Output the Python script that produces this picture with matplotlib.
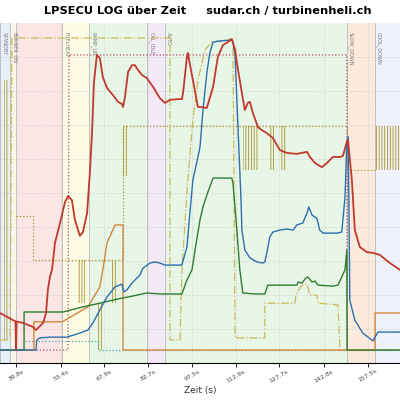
import matplotlib
matplotlib.use('Agg')
import matplotlib.pyplot as plt

# --- Daten (Zeit in s, Werte normiert 0..100) ---
red_t = [34.4, 38.8, 39.6, 39.8, 40.0, 42.1, 45.5, 46.5, 47.2, 48.9, 49.9, 50.5, 51.2, 51.9, 52.9, 54.6,
         56.3, 57.3, 58.6, 59.6, 61.3, 62.3, 63.7, 64.7, 65.4, 66.0, 67.0, 68.0, 69.0, 70.4, 72.4,
         74.1, 75.4, 75.8, 76.4, 77.5, 78.8, 79.8, 80.8, 82.2, 83.8, 85.9, 88.2, 89.9, 91.6, 94.0,
         95.6, 96.0, 97.3, 97.6, 99.3, 101.0, 101.7, 104.0, 106.1, 107.7, 109.4, 111.1, 112.4, 113.5,
         114.5, 115.8, 116.8, 117.8, 118.5, 119.5, 121.2, 122.5, 124.2, 126.2, 128.6, 130.9, 134.3,
         137.7, 138.7, 140.4, 142.7, 144.4, 146.4, 148.8, 149.8, 151.1, 151.5, 152.8, 153.8, 155.5,
         157.9, 159.9, 162.2, 165.6, 169.0]
red_v = [14.7, 12.6, 12.3, 3.8, 12.2, 11.8, 10.6, 9.7, 10.3, 11.8, 14.7, 21.5, 25.3, 27.4, 35.3, 41.2,
         47.4, 49.1, 47.9, 42.1, 37.4, 38.5, 44.1, 56.8, 68.5, 82.4, 90.6, 89.7, 84.1, 80.9, 78.8,
         76.8, 76.2, 75.3, 77.9, 85.6, 87.6, 87.6, 86.2, 84.7, 83.8, 81.2, 77.9, 76.5, 77.4, 77.6,
         77.6, 79.4, 90.0, 91.2, 83.2, 75.3, 75.3, 75.0, 81.2, 90.0, 93.5, 94.4, 95.3, 92.1,
         86.2, 79.4, 74.4, 76.5, 76.8, 73.5, 69.4, 68.5, 67.6, 66.2, 62.6, 61.8, 61.5,
         62.1, 60.6, 58.8, 57.6, 58.8, 60.6, 60.6, 60.9, 65.0, 65.6, 53.8, 39.1, 34.1,
         32.6, 32.4, 31.8, 29.4, 27.4]

blue_t = [34.4, 46.5, 46.8, 47.9, 51.2, 56.9, 61.3, 64.0, 65.7, 68.0, 70.4, 73.1, 75.4, 76.1, 77.1,
          78.8, 81.5, 82.5, 84.9, 86.5, 88.2, 89.9, 92.6, 95.6, 97.3, 98.3, 99.3, 101.0, 101.7,
          102.7, 104.0, 105.0, 106.1, 108.4, 112.4, 112.8, 113.5, 114.1, 114.8, 115.5, 115.8,
          116.8, 118.5, 120.9, 122.9, 123.5, 124.2, 125.2, 126.2, 128.6, 130.9, 133.0, 134.3,
          136.3, 137.7, 138.3, 139.4, 141.0, 142.0, 143.1, 145.4, 147.8, 149.4, 150.5, 151.1,
          151.5, 151.8, 152.1, 153.8, 156.5, 159.9, 160.6, 161.6, 164.6, 169.0]
blue_v = [3.8, 3.8, 6.8, 7.4, 7.6, 7.6, 8.8, 9.7, 11.8, 15.6, 19.4, 22.4, 23.2, 20.9, 21.5,
          23.5, 25.9, 27.9, 29.4, 29.7, 29.4, 28.8, 28.8, 28.8, 34.1, 44.1, 53.8, 60.6, 63.5,
          74.4, 85.3, 91.2, 94.4, 94.7, 95.0, 94.4, 90.6, 77.4, 62.6, 47.9, 39.1,
          33.2, 30.9, 29.7, 29.4, 29.7, 32.4, 37.1, 38.5, 39.1, 39.4, 39.1, 40.6,
          41.2, 44.1, 45.9, 43.5, 42.6, 39.1, 38.2, 38.2, 38.2, 38.5, 48.8, 64.7,
          66.5, 47.9, 18.5, 12.6, 8.8, 6.5, 7.6, 9.1, 9.1, 9.1]

green_t = [34.4, 42.5, 42.5, 55.6, 62.3, 68.0, 73.8, 79.1, 83.8, 88.2, 95.6, 97.3, 99.0, 100.3,
           101.7, 102.7, 104.0, 105.0, 106.1, 112.4, 112.8, 114.1, 115.1, 116.1, 120.2, 123.5,
           124.5, 134.3, 134.7, 136.0, 137.3, 138.0, 139.4, 140.4, 141.4, 146.4, 148.1, 149.4,
           150.5, 151.1, 151.2, 169.0]
green_v = [3.8, 3.8, 15.0, 15.0, 16.5, 17.6, 18.8, 19.7, 20.6, 20.3, 20.3, 24.4, 27.4, 34.7,
           42.1, 45.9, 49.4, 51.8, 54.4, 54.4, 52.9, 39.1, 27.4, 20.6, 20.3, 20.3,
           22.9, 22.9, 23.8, 23.5, 25.0, 25.3, 23.8, 24.1, 22.9, 22.6, 22.9, 25.3,
           27.4, 33.2, 3.8, 3.8]

orange_t = [34.4, 45.8, 45.8, 55.3, 64.0, 68.0, 69.0, 70.4, 73.1, 75.8, 75.8, 160.6, 160.6, 169.0]
orange_v = [3.8, 3.8, 12.1, 12.1, 16.5, 22.4, 27.4, 35.3, 40.6, 40.6, 3.8, 3.8, 14.7, 14.7]

khaki_t = [34.4, 37.8, 38.4, 91.6, 91.6, 95.0, 95.6, 97.6, 99.3, 101.0, 103.4, 105.7, 112.4,
           112.8, 113.5, 123.5, 123.5, 133.6, 134.0, 135.3, 136.3, 137.7, 138.7, 141.0, 141.4,
           148.1, 148.8, 169.0]
khaki_v = [6.8, 6.8, 95.6, 95.6, 6.8, 6.8, 27.4, 53.8, 71.5, 83.2, 92.1, 94.4, 95.3,
           94.1, 7.4, 7.4, 17.6, 17.6, 20.0, 22.1, 22.9, 23.2, 20.0, 20.0, 17.6,
           17.1, 3.8, 3.8]

pink_t = [34.4, 57.3, 57.6, 151.1, 151.2, 169.0]
pink_v = [3.8, 3.8, 90.6, 90.6, 3.8, 3.8]

olive_t = [39.8, 45.5, 45.5, 60.6, 75.8, 75.8, 151.1, 151.1, 160.6]
olive_v = [43.2, 43.2, 30.3, 30.3, 30.3, 69.7, 69.7, 56.8, 56.8]

teal_t = [42.8, 67.4, 67.4, 169.0]
teal_v = [6.5, 6.5, 3.8, 3.8]

# schnell wechselnde Signale (Start, Ende, unten, oben)
toggle_bands = [(35.7, 37.4, 6.8, 83.2), (60.6, 63.0, 17.6, 30.3), (67.4, 68.7, 3.8, 17.6),
                (72.1, 73.8, 17.6, 30.3), (75.8, 77.1, 55.0, 69.7), (116.1, 121.2, 56.8, 69.7),
                (125.2, 126.9, 56.8, 69.7), (128.6, 130.6, 56.8, 69.7), (160.9, 169.0, 56.8, 69.7)]

phase_names = ['STANDBY', 'BURNER_ON', '', 'FUELHEAT', 'RAMP_UP', 'CAL_IDLE', 'AUTO', 'SLOW_DOWN', 'COOL_DOWN']
phase_start = [34.4, 37.8, 39.8, 55.3, 64.3, 83.9, 89.9, 151.1, 160.6]
phase_end = [37.8, 39.8, 55.3, 64.3, 83.9, 89.9, 151.1, 160.6, 169.0]
phase_colors = ['#e6effa', '#fbf6e8', '#fbe6e6', '#fcfbe4', '#e8f6e8', '#f4e9f7', '#e8f6e8', '#fcebdd', '#edf2fb']

tick_pos = [39.8, 54.9, 69.4, 84.2, 99.0, 113.8, 128.3, 143.4, 158.2]
tick_labels = ['39.8s', '53.4s', '67.9s', '82.7s', '97.5s', '112.9s', '127.7s', '142.8s', '157.5s']

plt.rcParams['hatch.linewidth'] = 0.6

fig = plt.figure(figsize=(4, 4), dpi=100)
ax = fig.add_axes([0.0, 0.0925, 1.0, 0.85])

for name, a, b, c in zip(phase_names, phase_start, phase_end, phase_colors):
    ax.axvspan(a, b, color=c, zorder=0, lw=0)
    ax.axvline(a, color='#b8b8b8', lw=0.6, zorder=1)
    if name:
        ax.text(a + 0.4, 97.5, name, rotation=270, va='top', ha='left', fontsize=3.6, color='#777777', zorder=2)

for a, b, lo, hi in toggle_bands:
    ax.fill_between([a, b], [lo, lo], [hi, hi], facecolor='none', edgecolor='#a89224',
                    hatch='||||||', linewidth=0, zorder=3)

ax.plot(olive_t, olive_v, color='#a89224', lw=0.9, ls=':', zorder=3)
ax.plot(teal_t, teal_v, color='#4aa3a3', lw=0.9, ls=':', zorder=3)
ax.plot(pink_t, pink_v, color='#b04a6a', lw=0.9, ls=':', zorder=3)
ax.plot(khaki_t, khaki_v, color='#cbb95c', lw=0.9, ls='-.', zorder=3)
ax.plot(orange_t, orange_v, color='#d4873a', lw=1.0, zorder=4)
ax.plot(green_t, green_v, color='#2e7d32', lw=1.0, zorder=4)
ax.plot(blue_t, blue_v, color='#2c6fad', lw=1.0, zorder=5)
ax.plot(red_t, red_v, color='#c0392b', lw=1.3, zorder=6)

ax.set_xlim(34.4, 169.0)
ax.set_ylim(0, 100)
ax.set_xticks(tick_pos)
ax.set_xticklabels(tick_labels, rotation=30, fontsize=4.5, color='#444444')
ax.set_yticks([10, 20, 30, 40, 50, 60, 70, 80, 90])
ax.tick_params(axis='y', left=False, labelleft=False)
ax.tick_params(axis='x', length=3, width=0.6, pad=1)
ax.grid(True, color='#cccccc', lw=0.5, ls='--', alpha=0.7, zorder=1)
for s in ['top', 'right', 'left']:
    ax.spines[s].set_visible(False)
ax.spines['bottom'].set_linewidth(0.8)

ax.set_xlabel('Zeit (s)', fontsize=6.5, color='#333333', labelpad=2)
fig.text(0.52, 0.972, 'LPSECU LOG über Zeit     sudar.ch / turbinenheli.ch', ha='center', va='center',
         fontsize=8.2, fontweight='bold')

fig.savefig('out.png', dpi=100)
